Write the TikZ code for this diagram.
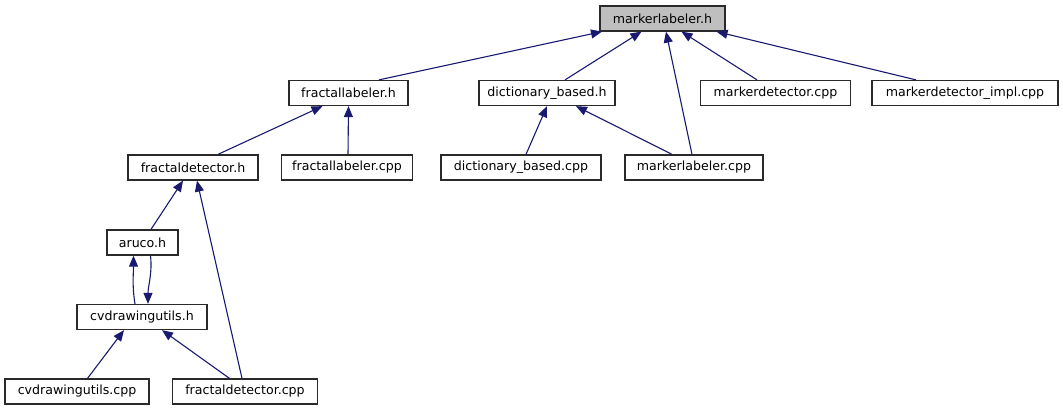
\documentclass[tikz,border=0pt]{standalone}
\usepackage{fontspec}
\setmainfont{DejaVu Sans}
\usetikzlibrary{arrows.meta}
\definecolor{edgeblue}{HTML}{191970}
\definecolor{boxline}{HTML}{2A2A2A}
\definecolor{rootfill}{HTML}{BFBFBF}
\tikzset{
  filebox/.style={draw=boxline, line width=1.25pt, fill=white, inner sep=0pt,
    minimum height=25pt, font=\fontsize{12.6}{14}\selectfont, text=black},
  rootbox/.style={filebox, fill=rootfill},
  dep/.style={draw=edgeblue, line width=1.1pt,
    -{Triangle[length=11pt,width=9pt,fill=edgeblue]}}
}
\begin{document}
\begin{tikzpicture}[x=1pt,y=-1pt]
\useasboundingbox (0,0) rectangle (1063,411);
% nodes
\node[rootbox, minimum width=125pt] (ml)   at (662.5,18.5) {markerlabeler.h};
\node[filebox, minimum width=119pt] (flh)  at (348.5,93) {fractallabeler.h};
\node[filebox, minimum width=136pt] (dbh)  at (547,93) {dictionary\_based.h};
\node[filebox, minimum width=150pt] (mdc)  at (775.5,93) {markerdetector.cpp};
\node[filebox, minimum width=186pt] (mdi)  at (965,93) {markerdetector\_impl.cpp};
\node[filebox, minimum width=130pt] (fdh)  at (193,167.5) {fractaldetector.h};
\node[filebox, minimum width=131pt] (flc)  at (347,167.5) {fractallabeler.cpp};
\node[filebox, minimum width=160pt] (dbc)  at (521,167.5) {dictionary\_based.cpp};
\node[filebox, minimum width=138pt] (mlc)  at (694,167.5) {markerlabeler.cpp};
\node[filebox, minimum width=71pt]  (ar)   at (142.5,242.5) {aruco.h};
\node[filebox, minimum width=130pt] (cvh)  at (142,317) {cvdrawingutils.h};
\node[filebox, minimum width=144pt] (cvc)  at (77,391.5) {cvdrawingutils.cpp};
\node[filebox, minimum width=145pt] (fdc)  at (245,391.5) {fractaldetector.cpp};
% edges
\draw[dep] ([xshift=30.5pt]flh.north) -- ([xshift=-60.5pt]ml.south);
\draw[dep] ([xshift=18pt]dbh.north) -- ([xshift=-21pt]ml.south);
\draw[dep] ([xshift=-2pt]mlc.north) -- ([xshift=3.5pt]ml.south);
\draw[dep] ([xshift=-18.5pt]mdc.north) -- ([xshift=19pt]ml.south);
\draw[dep] ([xshift=-49pt]mdi.north) -- ([xshift=54pt]ml.south);
\draw[dep] ([xshift=25pt]fdh.north) -- ([xshift=-26pt]flh.south);
\draw[dep] ([xshift=1pt]flc.north) -- ([xshift=0pt]flh.south);
\draw[dep] ([xshift=5pt]dbc.north) -- ([xshift=0pt]dbh.south);
\draw[dep] ([xshift=-22pt]mlc.north) -- ([xshift=29pt]dbh.south);
\draw[dep] ([xshift=8.5pt]ar.north) -- ([xshift=-10pt]fdh.south);
\draw[dep] ([xshift=-3pt]fdc.north) -- ([xshift=4pt]fdh.south);
\draw[dep] ([xshift=-7pt]cvh.north) .. controls +(-3,-18) and +(0,18) .. ([xshift=-9pt]ar.south);
\draw[dep] ([xshift=8pt]ar.south) .. controls +(2,18) and +(0,-18) .. ([xshift=6pt]cvh.north);
\draw[dep] ([xshift=10.5pt]cvc.north) -- ([xshift=-18pt]cvh.south);
\draw[dep] ([xshift=-15.5pt]fdc.north) -- ([xshift=20pt]cvh.south);
\end{tikzpicture}
\end{document}
